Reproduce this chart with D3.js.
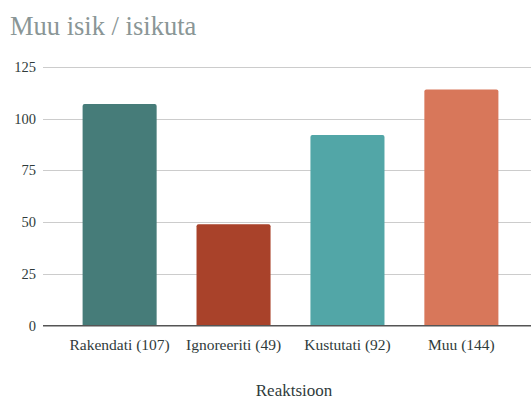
<!DOCTYPE html>
<html><head><meta charset="utf-8">
<script src="https://cdn.jsdelivr.net/npm/d3@7"></script>
</head><body style="margin:0"><svg id="c" width="532" height="400"></svg>
<script>
const categories = ["Rakendati (107)", "Ignoreeriti (49)", "Kustutati (92)", "Muu (144)"];
const values = [107, 49, 92, 114];
const colors = ["#467c79", "#a9422a", "#52a6a7", "#d8775a"];
const yTicks = [0, 25, 50, 75, 100, 125];
const title = "Muu isik / isikuta";
const xTitle = "Reaktsioon";

const FONT = "Liberation Serif";
const svg = d3.select("#c");
const x = d3.scaleBand().domain(categories).range([43.3, 537.7]).paddingInner(0.35).paddingOuter(0.345);
const y = d3.scaleLinear().domain([0, 125]).range([325.7, 66.7]);

const g = svg.append("g");
g.selectAll("line.grid").data(yTicks.filter(d => d > 0)).join("line")
  .attr("x1", 43).attr("x2", 531).attr("y1", d => Math.round(y(d)) + 0.5).attr("y2", d => Math.round(y(d)) + 0.5)
  .attr("stroke", "#cccccc").attr("stroke-width", 1.2);

const r = 2;
g.selectAll("path.bar").data(categories).join("path")
  .attr("fill", (d, i) => colors[i])
  .attr("d", (d, i) => {
    const x0 = x(d), w = x.bandwidth(), y0 = y(values[i]), yb = y(0);
    return `M${x0},${yb}V${y0 + r}Q${x0},${y0} ${x0 + r},${y0}H${x0 + w - r}Q${x0 + w},${y0} ${x0 + w},${y0 + r}V${yb}Z`;
  });

g.append("line").attr("x1", 43).attr("x2", 531).attr("y1", y(0)).attr("y2", y(0))
  .attr("stroke", "#555555").attr("stroke-width", 1.6);

const labels = [
  { t: title, x: 10, y: 35, s: 26.5, c: "#8a9696", a: "start" },
  ...yTicks.map(d => ({ t: String(d), x: 36, y: y(d) + 5, s: 14.5, c: "#2f3b3b", a: "end" })),
  ...categories.map(d => ({ t: d, x: x(d) + x.bandwidth() / 2, y: 350, s: 15.5, c: "#2f3b3b", a: "middle" })),
  { t: xTitle, x: 294, y: 396, s: 17, c: "#2f3b3b", a: "middle" }
];
svg.selectAll("text").data(labels).join("text")
  .attr("x", d => d.x).attr("y", d => d.y).attr("text-anchor", d => d.a)
  .attr("fill", d => d.c).attr("font-size", d => d.s)
  .attr("font-family", FONT).style("font-family", `"${FONT}"`)
  .text(d => d.t);
</script></body></html>
